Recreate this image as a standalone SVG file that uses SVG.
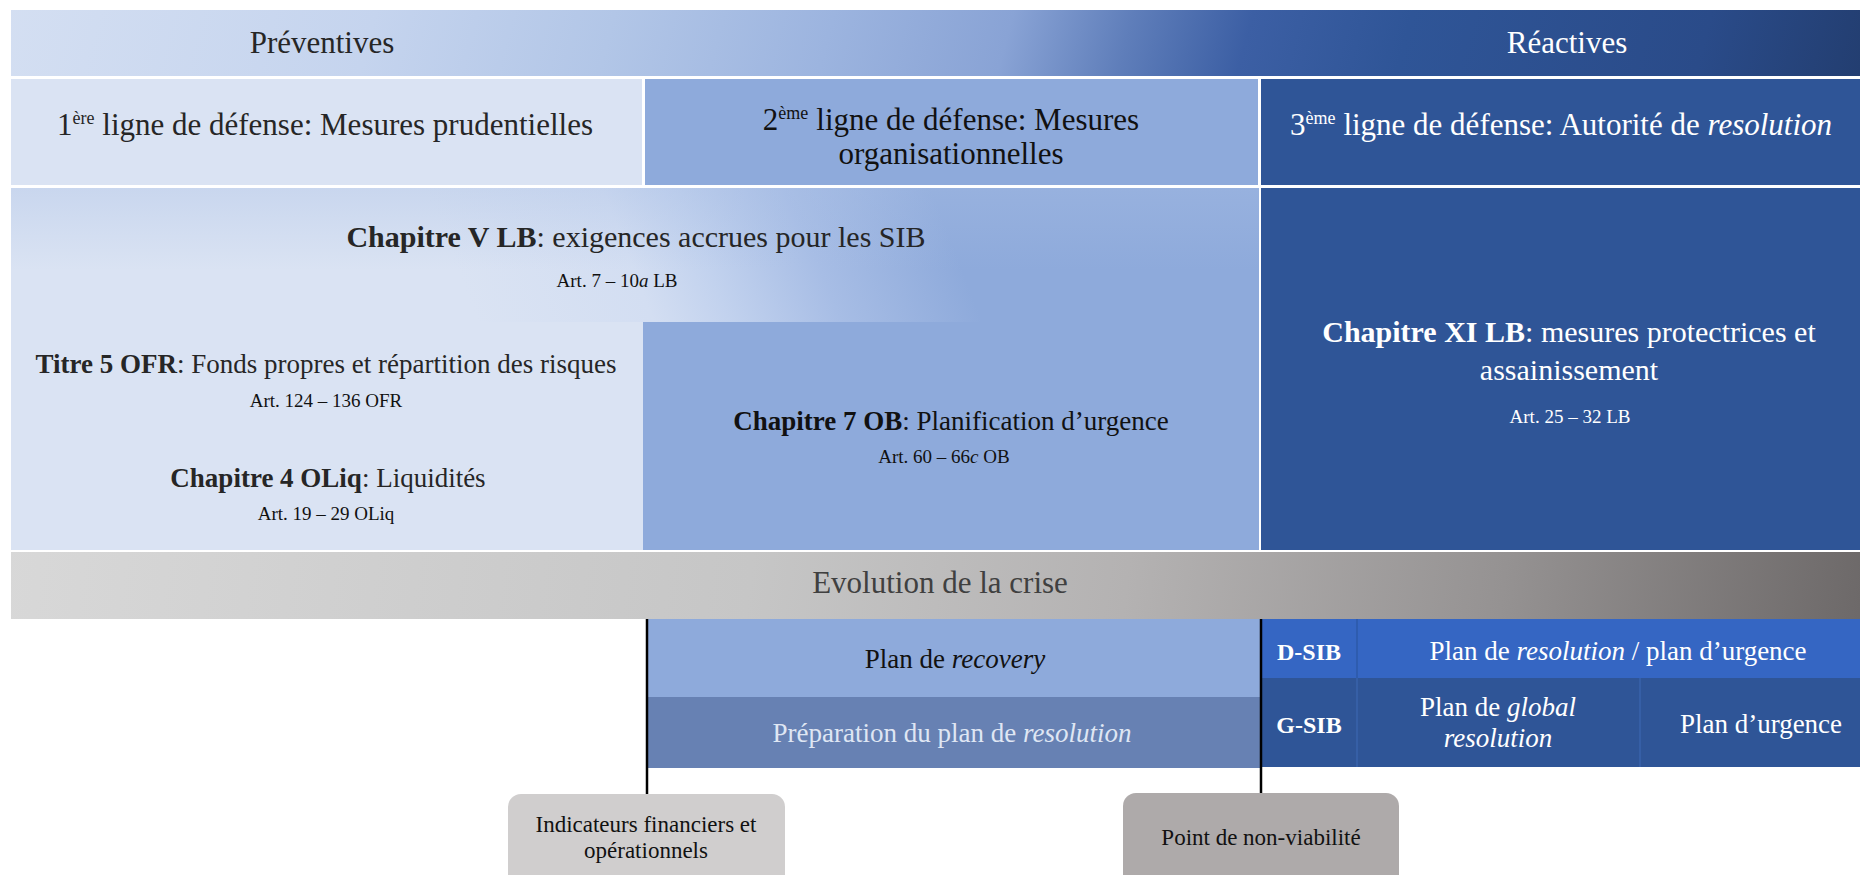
<svg xmlns="http://www.w3.org/2000/svg" width="1860" height="875" viewBox="0 0 1860 875">
<defs>
  <style>
    text { font-family: "Liberation Serif", "Times New Roman", serif; }
    .c { text-anchor: middle; }
    .f31 { font-size: 31px; }
    .f30 { font-size: 30px; }
    .f27 { font-size: 27px; }
    .f24 { font-size: 24px; }
    .f23 { font-size: 23px; }
    .f19 { font-size: 19px; }
    .b { font-weight: bold; }
    .i { font-style: italic; }
    .dark { fill: #262626; }
    .black { fill: #111111; }
    .white { fill: #ffffff; }
    .pale { fill: #dfe6f3; }
    .sup { font-size: 18px; }
    .vline { stroke: #000000; stroke-width: 2.5; fill: none; }
    .div1 { stroke: #2d5aa8; stroke-width: 1.5; }
    .div2 { stroke: #3a63ab; stroke-width: 1.5; }
  </style>
  <linearGradient id="gTop" gradientUnits="userSpaceOnUse" x1="0" y1="0" x2="1860" y2="500">
    <stop offset="0" stop-color="#d4dff2"/>
    <stop offset="0.19" stop-color="#c5d4ee"/>
    <stop offset="0.31" stop-color="#b2c6e7"/>
    <stop offset="0.42" stop-color="#9cb4df"/>
    <stop offset="0.51" stop-color="#89a3d5"/>
    <stop offset="0.57" stop-color="#5f7eba"/>
    <stop offset="0.63" stop-color="#3c5fa4"/>
    <stop offset="0.71" stop-color="#2f5597"/>
    <stop offset="0.86" stop-color="#2a4b89"/>
    <stop offset="1" stop-color="#1e3560"/>
  </linearGradient>
  <linearGradient id="gChV" gradientUnits="userSpaceOnUse" x1="480" y1="330" x2="920" y2="160">
    <stop offset="0" stop-color="#dae3f3"/>
    <stop offset="0.35" stop-color="#d3def2"/>
    <stop offset="0.5" stop-color="#c2d2ee"/>
    <stop offset="0.72" stop-color="#a7bde5"/>
    <stop offset="1" stop-color="#8eaadb"/>
  </linearGradient>
  <linearGradient id="gChVtop" gradientUnits="userSpaceOnUse" x1="0" y1="188" x2="0" y2="270">
    <stop offset="0" stop-color="#a9bfe5" stop-opacity="0.35"/>
    <stop offset="1" stop-color="#a9bfe5" stop-opacity="0"/>
  </linearGradient>
  <linearGradient id="gEvo" gradientUnits="userSpaceOnUse" x1="0" y1="540" x2="1860" y2="760">
    <stop offset="0" stop-color="#d8d8d8"/>
    <stop offset="0.4" stop-color="#c6c6c6"/>
    <stop offset="0.6" stop-color="#b4b2b2"/>
    <stop offset="0.8" stop-color="#959292"/>
    <stop offset="1" stop-color="#6b6767"/>
  </linearGradient>
</defs>

<rect x="0" y="0" width="1860" height="875" fill="#ffffff"/>

<g id="band-top">
  <rect x="11" y="10" width="1849" height="66" fill="url(#gTop)"/>
  <text x="322" y="53" class="c f31 dark">Préventives</text>
  <text x="1567" y="53" class="c f31 white">Réactives</text>
</g>

<g id="ligne-1">
  <rect x="11" y="79" width="631" height="106" fill="#dae3f3"/>
  <text x="325" y="135" class="c f31 dark">1<tspan class="sup" dy="-11">ère</tspan><tspan dy="11"> ligne de défense: Mesures prudentielles</tspan></text>
</g>

<g id="ligne-2">
  <rect x="645" y="79" width="613" height="106" fill="#8eaadb"/>
  <text x="951" y="130" class="c f31 black">2<tspan class="sup" dy="-11">ème</tspan><tspan dy="11" dx="8">ligne de défense: Mesures</tspan></text>
  <text x="951" y="164" class="c f31 black">organisationnelles</text>
</g>

<g id="ligne-3">
  <rect x="1261" y="79" width="599" height="106" fill="#2f5597"/>
  <text x="1561" y="135" class="c f31 white">3<tspan class="sup" dy="-11">ème</tspan><tspan dy="11" dx="8">ligne de défense: Autorité de </tspan><tspan class="i">resolution</tspan></text>
</g>

<g id="chapitre-v">
  <rect x="11" y="188" width="1248" height="134" fill="url(#gChV)"/>
  <rect x="11" y="188" width="1248" height="134" fill="url(#gChVtop)"/>
  <text x="636" y="247" class="c f30 dark"><tspan class="b">Chapitre V LB</tspan>: exigences accrues pour les SIB</text>
  <text x="617" y="287" class="c f19 black">Art. 7 – 10<tspan class="i">a</tspan> LB</text>
</g>

<g id="prudentielles">
  <rect x="11" y="322" width="632" height="228" fill="#dae3f3"/>
  <text x="326" y="373" class="c f27 dark"><tspan class="b">Titre 5 OFR</tspan>: Fonds propres et répartition des risques</text>
  <text x="326" y="407" class="c f19 black">Art. 124 – 136 OFR</text>
  <text x="328" y="487" class="c f27 dark"><tspan class="b">Chapitre 4 OLiq</tspan>: Liquidités</text>
  <text x="326" y="520" class="c f19 black">Art. 19 – 29 OLiq</text>
</g>

<g id="chapitre-7">
  <rect x="643" y="322" width="616" height="228" fill="#8eaadb"/>
  <text x="951" y="430" class="c f27 black"><tspan class="b">Chapitre 7 OB</tspan>: Planification d’urgence</text>
  <text x="944" y="463" class="c f19 black">Art. 60 – 66<tspan class="i">c</tspan> OB</text>
</g>

<g id="chapitre-xi">
  <rect x="1261" y="188" width="599" height="362" fill="#2f5597"/>
  <text x="1569" y="342" class="c f30 white"><tspan class="b">Chapitre XI LB</tspan>: mesures protectrices et</text>
  <text x="1569" y="380" class="c f30 white">assainissement</text>
  <text x="1570" y="423" class="c f19 white">Art. 25 – 32 LB</text>
</g>

<g id="evolution">
  <rect x="11" y="552" width="1849" height="67" fill="url(#gEvo)"/>
  <text x="940" y="593" class="c f31" fill="#404040">Evolution de la crise</text>
</g>

<g id="recovery">
  <rect x="648" y="619" width="612" height="78" fill="#8eaadb"/>
  <text x="955" y="668" class="c f27 black">Plan de <tspan class="i">recovery</tspan></text>
</g>

<g id="preparation">
  <rect x="648" y="697" width="612" height="71" fill="#6781b3"/>
  <text x="952" y="742" class="c f27 pale">Préparation du plan de <tspan class="i">resolution</tspan></text>
</g>

<g id="d-sib">
  <rect x="1262" y="619" width="598" height="59" fill="#3566c3"/>
  <line x1="1357" y1="619" x2="1357" y2="678" class="div1"/>
  <text x="1309" y="660" class="c f24 b white">D-SIB</text>
  <text x="1618" y="660" class="c f27 white">Plan de <tspan class="i">resolution</tspan> / plan d’urgence</text>
</g>

<g id="g-sib">
  <rect x="1262" y="678" width="598" height="89" fill="#2f5597"/>
  <line x1="1357" y1="678" x2="1357" y2="767" class="div2"/>
  <line x1="1640" y1="678" x2="1640" y2="767" class="div2"/>
  <text x="1309" y="733" class="c f24 b white">G-SIB</text>
  <text x="1498" y="716" class="c f27 white">Plan de <tspan class="i">global</tspan></text>
  <text x="1498" y="747" class="c f27 i white">resolution</text>
  <text x="1761" y="733" class="c f27 white">Plan d’urgence</text>
</g>

<g id="indicateurs">
  <rect x="508" y="794" width="277" height="110" rx="13" ry="13" fill="#d0cece"/>
  <text x="646" y="832" class="c f23 black">Indicateurs financiers et</text>
  <text x="646" y="858" class="c f23 black">opérationnels</text>
</g>

<g id="non-viabilite">
  <rect x="1123" y="793" width="276" height="110" rx="13" ry="13" fill="#aeaaaa"/>
  <text x="1261" y="845" class="c f23 black">Point de non-viabilité</text>
</g>

<g id="connectors">
  <line x1="647" y1="619" x2="647" y2="794" class="vline"/>
  <line x1="1261" y1="619" x2="1261" y2="793" class="vline"/>
</g>
</svg>
